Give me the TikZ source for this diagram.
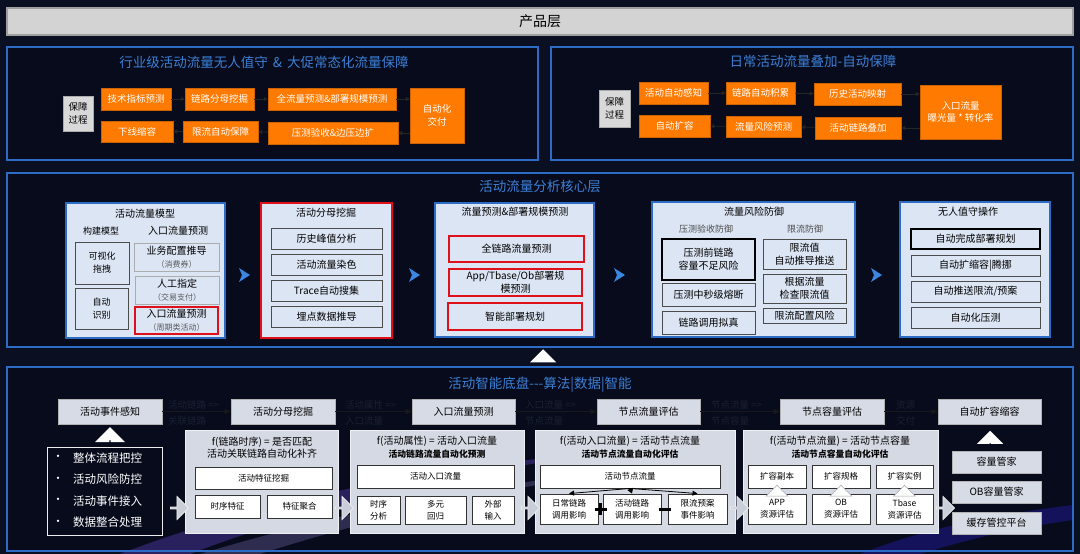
\documentclass[tikz,border=0pt]{standalone}
\usepackage{fontspec}
\setmainfont{Noto Sans CJK SC}
\usetikzlibrary{calc,arrows.meta,shapes.arrows}

\definecolor{bgnavy}{HTML}{0A0F22}
\definecolor{deepnavy}{HTML}{070B1C}
\definecolor{panelblue}{HTML}{2C6CC4}
\definecolor{titleblue}{HTML}{3C80D6}
\definecolor{chevblue}{HTML}{3A86E0}
\definecolor{promo}{HTML}{FF7A00}
\definecolor{corefill}{HTML}{DCE5F4}
\definecolor{basefill}{HTML}{D4D9E3}
\definecolor{stagefill}{HTML}{D6DBE5}
\definecolor{barfill}{HTML}{D3D3D3}
\definecolor{hintgrey}{HTML}{1B2032}
\definecolor{redline}{HTML}{E0101A}
\definecolor{arrowgrey}{HTML}{C9CED8}
\definecolor{glow}{HTML}{6A4BD8}

\newcommand{\fsz}[2]{\fontsize{#1}{#2}\selectfont}

\tikzset{
  every node/.style={inner sep=0pt, align=center},
  span/.style n args={4}{at={({(#1+#3)/2},{(#2+#4)/2})}, minimum width={(#3)-(#1)}, minimum height={(#4)-(#2)}},
  prodbar/.style={fill=barfill, draw=gray!75, line width=1.2pt, font=\fsz{14}{16}},
  tier/.style={draw=panelblue, line width=1.6pt},
  tiertitle/.style={text=titleblue, font=\fsz{13.5}{16}},
  guard/.style={fill=gray!30, draw=gray!65, line width=0.8pt, font=\fsz{9.5}{12.5}},
  promobox/.style={fill=promo, draw=promo!80!black, line width=0.5pt, text=white, font=\fsz{9.5}{12.5}},
  hop/.style={-{Triangle[length=4pt,width=4pt]}, draw=black!85, line width=0.8pt},
  corepanel/.style={fill=corefill, draw=panelblue, line width=1.2pt},
  coremark/.style={corepanel, draw=redline, line width=1.8pt},
  corehead/.style={font=\fsz{10}{12}},
  subhead/.style={font=\fsz{9}{11}, text=black!70},
  slot/.style={draw=black!70, line width=1pt, font=\fsz{10}{13}},
  slotsoft/.style={slot, draw=gray!65},
  slotred/.style={slot, draw=redline, line width=1.6pt},
  slotbold/.style={slot, draw=black, line width=1.8pt},
  chevron/.style={fill=chevblue},
  stage/.style={fill=stagefill, draw=gray!60, line width=0.8pt, font=\fsz{10}{12}},
  basepanel/.style={fill=basefill, draw=white!60!basefill, line width=0.8pt},
  formula/.style={font=\fsz{10}{12}},
  formsub/.style={font=\bfseries\fsz{8.8}{11}},
  wslot/.style={fill=white, draw=black!80, line width=0.9pt, font=\fsz{8.5}{12}},
  link/.style={-{Triangle[length=6pt,width=5pt]}, draw=black!90, line width=0.9pt},
  hint/.style={anchor=west, text=hintgrey, font=\fsz{9.5}{11}},
  flow/.style={single arrow, single arrow head extend=4.5pt, minimum height=18pt, minimum width=23pt, fill=arrowgrey, draw=white!85!gray, line width=0.8pt},
  lift/.style={single arrow, shape border rotate=90, single arrow head extend=5pt, fill=white},
}

\begin{document}
\begin{tikzpicture}[x=1pt,y=1pt,yscale=-1]
\fill[bgnavy] (0,0) rectangle (1080,554);
\useasboundingbox (0,0) rectangle (1080,554);
\fill[deepnavy] (7,47) rectangle (538,160) (551,47) rectangle (1073,160) (7,173) rectangle (1073,347) (7,367) rectangle (1073,551);
% background glow
\fill[glow, opacity=0.35] (120,554) .. controls (260,500) and (420,470) .. (600,452) .. controls (430,480) and (290,515) .. (190,554) -- cycle;
\fill[glow!60!white, opacity=0.25] (200,554) .. controls (330,515) and (460,488) .. (620,470) .. controls (470,495) and (350,525) .. (260,554) -- cycle;
\fill[glow!50!blue, opacity=0.3] (860,554) .. controls (920,530) and (990,515) .. (1073,505) -- (1073,520) .. controls (1000,530) and (950,545) .. (920,554) -- cycle;

% product layer
\node[prodbar, span={7}{8}{1073}{35}] (prod) {产品层};

% industry guarantee
\node[tier, span={7}{47}{538}{160}] (ind) {};
\node[tiertitle] (indt) at (264,62) {行业级活动流量无人值守\hspace{5pt}\&\hspace{5pt}大促常态化流量保障};
\node[guard, span={63}{96}{93}{131}] (indg) {保障\\过程};
\node[promobox, span={101}{88}{171}{110}] (i1) {技术指标预测};
\node[promobox, span={185}{88}{254}{110}] (i2) {链路分母挖掘};
\node[promobox, span={268}{88}{396}{110}] (i3) {全流量预测\&部署规模预测};
\node[promobox, span={410}{88}{464}{143}] (i4) {自动化\\交付};
\node[promobox, span={268}{122}{398}{144}] (i5) {压测验收\&边压边扩};
\node[promobox, span={183}{121}{258}{142}] (i6) {限流自动保障};
\node[promobox, span={101}{121}{173}{142}] (i7) {下线缩容};
\draw[hop] (i1) -- (i2);
\draw[hop] (i2) -- (i3);
\draw[hop] (i3.east) -- (i3.east -| i4.west);
\draw[hop] (i5.east -| i4.west) -- (i5.east);
\draw[hop] (i5) -- (i6);
\draw[hop] (i6) -- (i7);

% daily guarantee
\node[tier, span={551}{47}{1073}{160}] (day) {};
\node[tiertitle] (dayt) at (813,61) {日常活动流量叠加-自动保障};
\node[guard, span={599}{90}{630}{127}] (dayg) {保障\\过程};
\node[promobox, span={639}{82}{708}{104}] (d1) {活动自动感知};
\node[promobox, span={726}{82}{795}{104}] (d2) {链路自动积累};
\node[promobox, span={814}{83}{901}{105}] (d3) {历史活动映射};
\node[promobox, span={920}{85}{1001}{139}] (d4) {入口流量\\曝光量 * 转化率};
\node[promobox, span={815}{117}{901}{139}] (d5) {活动链路叠加};
\node[promobox, span={726}{116}{801}{137}] (d6) {流量风险预测};
\node[promobox, span={639}{115}{710}{137}] (d7) {自动扩容};
\draw[hop] (d1) -- (d2);
\draw[hop] (d2) -- (d3);
\draw[hop] (d3.east) -- (d3.east -| d4.west);
\draw[hop] (d5.east -| d4.west) -- (d5.east);
\draw[hop] (d5) -- (d6);
\draw[hop] (d6) -- (d7);

% core analysis layer
\node[tier, span={7}{173}{1073}{347}] (core) {};
\node[tiertitle] (coret) at (540,186) {活动流量分析核心层};

\node[corepanel, span={66}{203}{225}{338}] (model) {};
\node[corehead] at (145,214) {活动流量模型};
\node[subhead, text=black] at (101,231) {构建模型};
\node[corehead] at (178,231) {入口流量预测};
\node[slot, span={75}{242}{129}{284}, font=\fsz{9}{13}] (vis) {可视化\\拖拽};
\node[slot, span={75}{288}{128}{329}, font=\fsz{9}{13}] (ident) {自动\\识别};
\node[slotsoft, span={134}{243}{219}{271}] (cfg) {业务配置推导\\{\fsz{8}{11}\color{black!65}（消费券）}};
\node[slotsoft, span={135}{276}{219}{304}] (manual) {人工指定\\{\fsz{8}{11}\color{black!65}（交易支付）}};
\node[slotred, span={135}{307}{218}{334}] (entry) {入口流量预测\\{\fsz{8}{11}\color{black!65}（周期类活动）}};

\node[coremark, span={261}{203}{392}{338}] (denom) {};
\node[corehead] at (326,213) {活动分母挖掘};
\node[slot, span={271}{228}{382}{249}] (peak) {历史峰值分析};
\node[slot, span={271}{254}{382}{275}] (dye) {活动流量染色};
\node[slot, span={271}{280}{382}{301}] (trace) {Trace自动搜集};
\node[slot, span={271}{306}{382}{327}] (track) {埋点数据推导};

\node[corepanel, span={435}{203}{594}{337}] (fcst) {};
\node[corehead] at (515,212) {流量预测\&部署规模预测};
\node[slotred, span={449}{236}{584}{262}] (full) {全链路流量预测};
\node[slotred, span={449}{269}{582}{296}] (scale) {App/Tbase/Ob部署规\\模预测};
\node[slotred, span={448}{303}{582}{330}] (plan) {智能部署规划};

\node[corepanel, span={652}{202}{855}{337}] (risk) {};
\node[corehead] at (754,212) {流量风险防御};
\node[subhead] at (706,229) {压测验收防御};
\node[subhead] at (805,229) {限流防御};
\node[slotbold, span={662}{239}{755}{280}] (cap) {压测前链路\\容量不足风险};
\node[slot, span={662}{283}{755}{306}] (fuse) {压测中秒级熔断};
\node[slot, span={662}{311}{755}{334}] (sim) {链路调用拟真};
\node[slot, span={763}{239}{846}{269}] (limv) {限流值\\自动推导推送};
\node[slot, span={763}{274}{846}{303}] (limc) {根据流量\\检查限流值};
\node[slot, span={763}{308}{846}{323}] (limr) {限流配置风险};

\node[corepanel, span={900}{202}{1050}{337}] (ops) {};
\node[corehead] at (968,212) {无人值守操作};
\node[slotbold, span={911}{229}{1040}{249}] (o1) {自动完成部署规划};
\node[slot, span={911}{255}{1040}{276}] (o2) {自动扩缩容|腾挪};
\node[slot, span={911}{281}{1040}{302}] (o3) {自动推送限流/预案};
\node[slot, span={911}{307}{1040}{328}] (o4) {自动化压测};

\foreach \cx in {244,414,619,876}
  \fill[chevron] (\cx,275) ++(-5,-7) -- ++(11,7) -- ++(-11,7) -- ++(3,-7) -- cycle;

\node[lift, minimum height=13pt, minimum width=26pt] (rise) at (543,356) {};

% intelligent base layer
\node[tier, span={7}{367}{1073}{551}] (base) {};
\node[tiertitle] (baset) at (540,385) {活动智能底盘-{}-{}-算法|数据|智能};

\node[stage, span={58}{399}{162}{424}] (sev) {活动事件感知};
\node[stage, span={231}{399}{335}{424}] (sdm) {活动分母挖掘};
\node[stage, span={412}{399}{515}{424}] (sef) {入口流量预测};
\node[stage, span={597}{399}{700}{424}] (snf) {节点流量评估};
\node[stage, span={780}{399}{884}{424}] (snc) {节点容量评估};
\node[stage, span={938}{399}{1041}{424}] (sas) {自动扩容缩容};
\draw[link] (sev) -- (sdm);
\draw[link] (sdm) -- (sef);
\draw[link] (sef) -- (snf);
\draw[link] (snf) -- (snc);
\draw[link] (snc) -- (sas);
\node[hint] at (168,405) {活动链路 =>};
\node[hint] at (168,421) {关联链路};
\node[hint] at (345,405) {活动属性 =>};
\node[hint] at (345,421) {入口流量};
\node[hint] at (525,405) {入口流量 =>};
\node[hint] at (525,421) {节点流量};
\node[hint] at (711,405) {节点流量 =>};
\node[hint] at (711,421) {节点容量};
\node[hint] at (896,405) {资源};
\node[hint] at (896,421) {交付};

% event intake list
\node[span={47}{447}{162}{535}, draw=white!85!gray, line width=1pt] (intake) {};
\node[lift, minimum height=13pt, minimum width=30pt] (upev) at (110,434) {};
\foreach \t [count=\i] in {整体流程把控,活动风险防控,活动事件接入,数据整合处理}{
  \node[text=white, font=\fsz{11}{13}] (dot\i) at (58,{436.5+21.5*\i}) {•};
  \node[anchor=west, text=white, font=\fsz{11.5}{14}] (li\i) at (73,{436.5+21.5*\i}) {\t};
}

% denominator mining
\node[basepanel, span={185}{430}{338}{533}] (bdm) {};
\node[formula] at (262,442) {f(链路时序) = 是否匹配};
\node[formula] at (262,454) {活动关联链路自动化补齐};
\node[wslot, span={195}{467}{332}{489}] (feat) {活动特征挖掘};
\node[wslot, span={195}{495}{260}{518}] (seq) {时序特征};
\node[wslot, span={267}{495}{332}{518}] (agg) {特征聚合};

% entry forecast
\node[basepanel, span={350}{430}{524}{533}] (bef) {};
\node[formula] at (437,441) {f(活动属性) = 活动入口流量};
\node[formsub] at (437,454) {活动链路流量自动化预测};
\node[wslot, span={357}{465}{514}{488}] (eflow) {活动入口流量};
\node[wslot, span={357}{496}{400}{524}] (ts) {时序\\分析};
\node[wslot, span={405}{496}{466}{524}] (reg) {多元\\回归};
\node[wslot, span={472}{496}{514}{524}] (ext) {外部\\输入};

% node flow
\node[basepanel, span={535}{430}{735}{533}] (bnf) {};
\node[formula] at (630,441) {f(活动入口流量) = 活动节点流量};
\node[formsub] at (630,454) {活动节点流量自动化评估};
\node[wslot, span={540}{465}{720}{488}] (nflow) {活动节点流量};
\node[wslot, span={540}{494}{598}{524}] (daily) {日常链路\\调用影响};
\node[wslot, span={603}{494}{661}{524}] (actl) {活动链路\\调用影响};
\node[wslot, span={668}{494}{727}{524}] (limp) {限流预案\\事件影响};
\draw[-{Triangle[length=5pt,width=5pt]}, line width=0.8pt] (nflow.south) -- (daily.north);
\draw[-{Triangle[length=5pt,width=6pt]}, line width=0.8pt] (nflow.south) -- (actl.north);
\draw[-{Triangle[length=5pt,width=5pt]}, line width=0.8pt] (nflow.south) -- (limp.north);
\draw[line width=3pt] ($(daily.east)!0.5!(actl.west)$) ++(0,-6) -- ++(0,12) ++(-6,-6) -- ++(12,0);
\draw[line width=3pt] ($(actl.east)!0.5!(limp.west)$) ++(-6,0) -- ++(12,0);

% node capacity
\node[basepanel, span={743}{430}{938}{533}] (bnc) {};
\node[formula] at (840,441) {f(活动节点流量) = 活动节点容量};
\node[formsub] at (840,454) {活动节点容量自动化评估};
\node[wslot, span={748}{465}{806}{488}] (rep) {扩容副本};
\node[wslot, span={812}{465}{870}{488}] (spec) {扩容规格};
\node[wslot, span={876}{465}{933}{488}] (inst) {扩容实例};
\node[wslot, span={748}{494}{806}{524}] (appr) {APP\\资源评估};
\node[wslot, span={812}{494}{870}{524}] (obr) {OB\\资源评估};
\node[wslot, span={876}{494}{933}{524}] (tbr) {Tbase\\资源评估};
\foreach \a/\b in {appr/rep,obr/spec,tbr/inst}
  \node[lift, draw=gray!70, line width=0.6pt, minimum height=11pt, minimum width=22pt] at ($(\a.north)!0.5!(\b.south)$) {};

% scaling platforms
\node[stage, span={952}{451}{1041}{473}] (keeper) {容量管家};
\node[stage, span={952}{481}{1041}{503}] (obkeeper) {OB容量管家};
\node[stage, span={952}{512}{1041}{534}] (cache) {缓存管控平台};
\node[lift, minimum height=12pt, minimum width=26pt] (upas) at (990,437) {};

% stage hand-over arrows
\node[flow] (f1) at (179,508) {};
\node[flow] (f2) at (344,508) {};
\node[flow] (f3) at (530,508) {};
\node[flow] (f4) at (739,508) {};
\node[flow] (f5) at (945,508) {};
\end{tikzpicture}
\end{document}
